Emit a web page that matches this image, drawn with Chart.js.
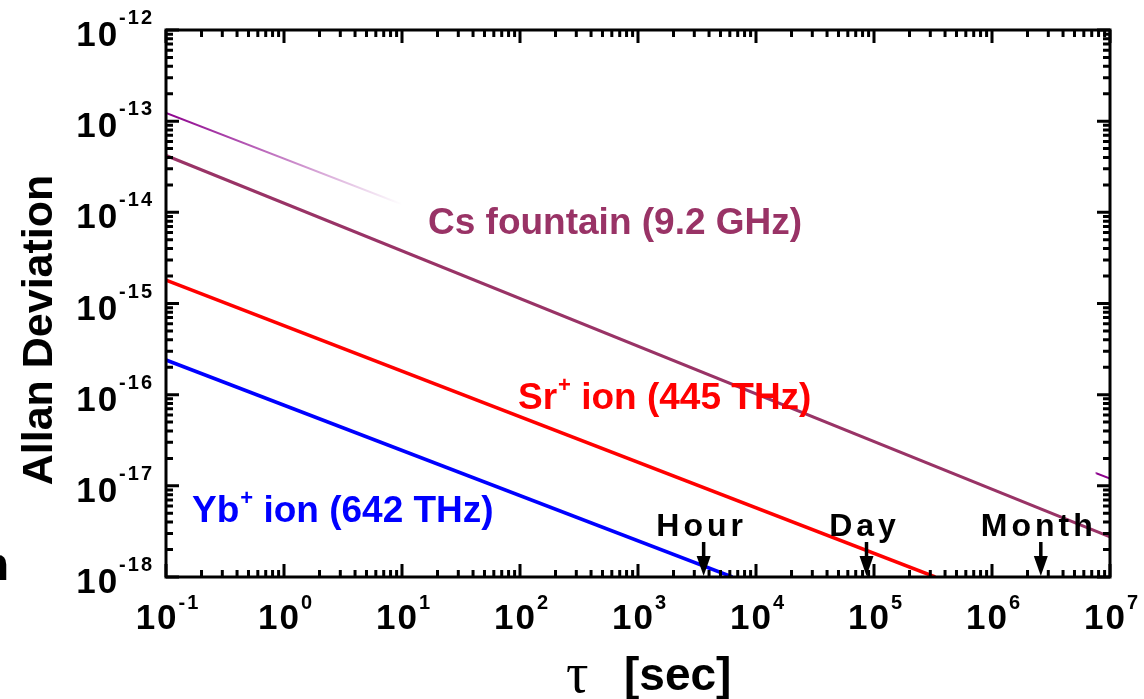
<!DOCTYPE html>
<html>
<head>
<meta charset="utf-8">
<script src="https://cdn.jsdelivr.net/npm/chart.js@4.4.1/dist/chart.umd.min.js"></script>
<style>
  body { margin: 0; background: #fff; }
</style>
</head>
<body>
<canvas id="myChart" width="1144" height="699"></canvas>
<script>
// Axis ranges and tick exponents
const xExps = [-1, 0, 1, 2, 3, 4, 5, 6, 7];
const yExps = [-12, -13, -14, -15, -16, -17, -18];

// Series (tau in seconds, Allan deviation)
const csTau = [0.1, 1e7];
const csDev = [4.2e-14, 2.75e-18];
const csFaintTau = [0.1, 1e7];
const csFaintDev = [1.23e-13, 1.2e-17];
const srTau = [0.1, 3.3e5];
const srDev = [1.8e-15, 1e-18];
const ybTau = [0.1, 6.3e3];
const ybDev = [2.4e-16, 1e-18];

// Time markers
const markNames = ['Hour', 'Day', 'Month'];
const markTaus = [3600, 86400, 2.592e6];

function toPoints(xs, ys) {
    return xs.map((x, i) => ({ x: x, y: ys[i] }));
}

function faintColor(context) {
    const chart = context.chart;
    const area = chart.chartArea;
    if (!area) return 'rgba(128,0,128,1)';
    const g = chart.ctx.createLinearGradient(area.left, 0, area.right, 0);
    g.addColorStop(0, 'rgba(140,0,140,1)');
    g.addColorStop(0.25, 'rgba(140,0,140,0)');
    g.addColorStop(0.984, 'rgba(140,0,140,0)');
    g.addColorStop(0.986, 'rgba(140,0,140,1)');
    return g;
}

// draws "10" with a raised exponent
function drawPow(ctx, exp, x, y, align, supRise) {
    ctx.letterSpacing = '2px';
    ctx.font = 'bold 35px "Liberation Sans", Arial, sans-serif';
    const wBase = ctx.measureText('10').width;
    ctx.font = 'bold 20px "Liberation Sans", Arial, sans-serif';
    const sup = String(exp);
    const wSup = ctx.measureText(sup).width;
    let left;
    if (align === 'right') left = x - wBase - wSup;
    else left = x - (wBase + wSup) / 2;
    ctx.textAlign = 'left';
    ctx.textBaseline = 'alphabetic';
    ctx.font = 'bold 35px "Liberation Sans", Arial, sans-serif';
    ctx.fillText('10', left, y);
    ctx.font = 'bold 20px "Liberation Sans", Arial, sans-serif';
    ctx.fillText(sup, left + wBase, y - supRise);
    ctx.letterSpacing = '0px';
}

function drawSupLabel(ctx, a, s, b, x, y, color) {
    ctx.fillStyle = color;
    ctx.textAlign = 'left';
    ctx.textBaseline = 'alphabetic';
    ctx.font = 'bold 37px "Liberation Sans", Arial, sans-serif';
    ctx.fillText(a, x, y);
    let w = ctx.measureText(a).width;
    ctx.font = 'bold 22px "Liberation Sans", Arial, sans-serif';
    ctx.fillText(s, x + w + 1, y - 17);
    w += ctx.measureText(s).width + 1;
    ctx.font = 'bold 37px "Liberation Sans", Arial, sans-serif';
    ctx.fillText(b, x + w, y);
}

const framePlugin = {
    id: 'frame',
    afterDatasetsDraw(chart) {
        const ctx = chart.ctx;
        const xs = chart.scales.x;
        const ys = chart.scales.y;
        const a = chart.chartArea;
        ctx.save();
        ctx.strokeStyle = '#000';
        ctx.fillStyle = '#000';

        // frame
        ctx.lineWidth = 3;
        ctx.strokeRect(a.left, a.top, a.right - a.left, a.bottom - a.top);

        // inward ticks on all four sides
        ctx.lineWidth = 3;
        ctx.beginPath();
        for (let e = xExps[0]; e <= xExps[xExps.length - 1]; e++) {
            for (let k = 1; k <= 9; k++) {
                const v = k * Math.pow(10, e);
                if (v > xs.max * 1.0001) break;
                const px = xs.getPixelForValue(v);
                const len = k === 1 ? 13 : 7;
                ctx.moveTo(px, a.bottom);
                ctx.lineTo(px, a.bottom - len);
                ctx.moveTo(px, a.top);
                ctx.lineTo(px, a.top + len);
            }
        }
        for (let e = -18; e <= -12; e++) {
            for (let k = 1; k <= 9; k++) {
                const v = k * Math.pow(10, e);
                if (v > ys.max * 1.0001) break;
                const py = ys.getPixelForValue(v);
                const len = k === 1 ? 13 : 7;
                ctx.moveTo(a.left, py);
                ctx.lineTo(a.left + len, py);
                ctx.moveTo(a.right, py);
                ctx.lineTo(a.right - len, py);
            }
        }
        ctx.stroke();

        // tick labels
        xExps.forEach(e => {
            drawPow(ctx, e, xs.getPixelForValue(Math.pow(10, e)) + 2, 629, 'center', 20);
        });
        yExps.forEach(e => {
            drawPow(ctx, e, 154, ys.getPixelForValue(Math.pow(10, e)) + 16, 'right', 22);
        });

        // axis titles
        ctx.save();
        ctx.translate(52, 330);
        ctx.rotate(-Math.PI / 2);
        ctx.textAlign = 'center';
        ctx.textBaseline = 'alphabetic';
        ctx.font = 'bold 43px "Liberation Sans", Arial, sans-serif';
        ctx.fillText('Allan Deviation', 0, 0);
        ctx.restore();

        ctx.textAlign = 'left';
        ctx.font = '56px "Liberation Serif", "Times New Roman", serif';
        ctx.fillText('τ', 566, 692);
        ctx.font = 'bold 46px "Liberation Sans", Arial, sans-serif';
        ctx.fillText('[sec]', 624, 690);

        // clipped letter at the left border
        ctx.font = 'bold 46px "Liberation Sans", Arial, sans-serif';
        ctx.fillText('n', -19, 580);

        // series labels
        ctx.fillStyle = '#993366';
        ctx.font = 'bold 37px "Liberation Sans", Arial, sans-serif';
        ctx.fillText('Cs fountain (9.2 GHz)', 428, 234);
        drawSupLabel(ctx, 'Sr', '+', ' ion (445 THz)', 518, 409, '#ff0000');
        drawSupLabel(ctx, 'Yb', '+', ' ion (642 THz)', 192, 522, '#0000ff');

        // time markers with arrows
        ctx.fillStyle = '#000';
        ctx.strokeStyle = '#000';
        markNames.forEach((name, i) => {
            const px = xs.getPixelForValue(markTaus[i]);
            ctx.font = 'bold 32px "Liberation Sans", Arial, sans-serif';
            ctx.letterSpacing = '4px';
            ctx.textAlign = 'center';
            ctx.fillText(name, px - 2, 536);
            ctx.letterSpacing = '0px';
            ctx.lineWidth = 3.5;
            ctx.beginPath();
            ctx.moveTo(px, 542);
            ctx.lineTo(px, 562);
            ctx.stroke();
            ctx.beginPath();
            ctx.moveTo(px - 7, 556);
            ctx.lineTo(px + 7, 556);
            ctx.lineTo(px, a.bottom - 1);
            ctx.closePath();
            ctx.fill();
        });
        ctx.restore();
    }
};

const ctx = document.getElementById('myChart').getContext('2d');
const myChart = new Chart(ctx, {
    type: 'line',
    data: {
        datasets: [
            {
                label: 'Cs faint',
                data: toPoints(csFaintTau, csFaintDev),
                borderColor: faintColor,
                borderWidth: 2
            },
            {
                label: 'Cs fountain (9.2 GHz)',
                data: toPoints(csTau, csDev),
                borderColor: '#993366',
                borderWidth: 3
            },
            {
                label: 'Sr+ ion (445 THz)',
                data: toPoints(srTau, srDev),
                borderColor: '#ff0000',
                borderWidth: 3.5
            },
            {
                label: 'Yb+ ion (642 THz)',
                data: toPoints(ybTau, ybDev),
                borderColor: '#0000ff',
                borderWidth: 3.5
            }
        ]
    },
    options: {
        responsive: false,
        animation: false,
        devicePixelRatio: 1,
        layout: {
            padding: { left: 166, right: 34, top: 30, bottom: 122 }
        },
        elements: {
            point: { radius: 0 },
            line: { tension: 0 }
        },
        plugins: {
            legend: { display: false },
            tooltip: { enabled: false }
        },
        scales: {
            x: {
                type: 'logarithmic',
                min: 0.1,
                max: 1e7,
                display: false
            },
            y: {
                type: 'logarithmic',
                min: 1e-18,
                max: 1e-12,
                display: false
            }
        }
    },
    plugins: [framePlugin]
});
</script>
</body>
</html>
